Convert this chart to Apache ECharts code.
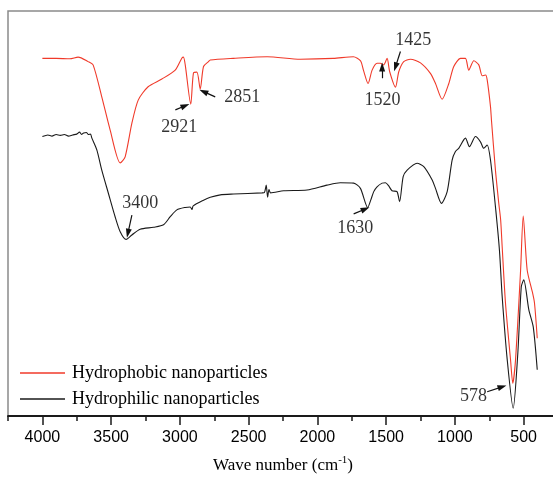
<!DOCTYPE html>
<html>
<head>
<meta charset="utf-8">
<script src="https://cdn.jsdelivr.net/npm/echarts@6/dist/echarts.min.js"></script>
<style>
html,body{margin:0;padding:0;background:#fff;}
#chart{width:553px;height:478px;}
</style>
</head>
<body>
<div id="chart"></div>
<script>
// ---- data (wavenumber cm^-1, transmittance a.u.) ----
const seriesNames = ['Hydrophobic nanoparticles', 'Hydrophilic nanoparticles'];

const redWn = [4000,3900,3800,3740,3667,3631,3568,3507,3434,3398,3349,3303,3231,3131,3034,2985,2974,2961,2921,2901,2876,2852,2828,2792,2779,2612,2366,2124,1884,1738,1686,1665,1631,1602,1566,1542,1518,1493,1474,1432,1408,1372,1323,1250,1178,1141,1093,1044,1008,959,923,899,862,826,801,777,765,741,734,705,681,667,656,632,595,579,559,522,503,474,437,421,401];
const redT = [88.3,88.3,88.2,88.6,87.5,86.7,78.8,70.6,62.5,64.0,72.3,78.0,81.3,83.2,85.4,88.4,88.6,86.7,77.0,84.7,84.9,80.7,86.3,87.5,87.9,88.3,88.7,88.1,88.3,88.7,87.7,85.4,82.1,85.4,87.1,87.1,86.7,88.3,85.0,81.2,85.0,87.5,88.1,87.2,84.6,82.1,78.2,82.1,86.3,88.3,88.3,85.4,87.7,86.7,84.0,84.2,83.0,76.4,73.1,60.7,52.6,48.4,41.8,27.9,13.8,8.1,13.8,36.0,49.4,36.0,30.7,27.9,19.2];

const blackWn = [4000,3960,3930,3900,3870,3840,3810,3780,3750,3730,3715,3700,3680,3665,3650,3640,3604,3568,3520,3471,3434,3391,3349,3289,3192,3119,3070,3022,2961,2925,2912,2903,2828,2779,2706,2609,2403,2385,2372,2362,2352,2340,2245,2075,1930,1833,1736,1687,1634,1612,1590,1566,1529,1505,1481,1457,1421,1402,1376,1347,1275,1226,1165,1141,1098,1056,1020,996,972,923,894,850,814,790,765,741,705,676,656,619,576,542,517,499,462,430,401];
const blackT = [69.0,69.4,69.1,69.5,69.3,69.5,69.1,69.4,69.6,70.1,69.5,69.9,70.0,69.5,69.6,68.6,65.7,60.7,55.0,49.2,45.5,43.6,44.7,46.1,46.6,47.2,49.2,50.9,51.5,51.6,51.0,51.9,53.3,54.0,54.6,54.8,55.1,55.2,57.0,54.0,55.9,55.1,55.6,55.8,57.0,57.6,57.5,56.2,51.5,53.3,55.4,56.6,57.5,57.6,56.8,55.6,55.4,52.9,59.1,60.7,62.4,61.6,58.3,56.2,52.5,55.4,63.2,65.3,66.1,68.6,66.5,69.0,67.7,66.1,66.9,63.2,51.7,41.0,29.5,13.8,1.9,15.6,31.9,33.6,26.2,22.0,11.4];

// tick labels
const majorTicks = [500,1000,1500,2000,2500,3000,3500,4000];

// annotations: label text and its anchor (wavenumber, transmittance)
const annoText = ['2921','2851','3400','1630','1520','1425','578'];
const annoWn   = [3005, 2546, 3289, 1725, 1527, 1302, 865];
const annoT    = [71.4, 78.8, 52.5, 46.3, 78.0, 92.8, 4.8];
// arrows: from (tail) -> to (head)
const arrowFromWn = [3033, 2743, 3349, 1736, 1529, 1396, 765];
const arrowFromT  = [75.6, 78.8, 49.6, 49.9, 83.4, 90.0, 6.0];
const arrowToWn   = [2961, 2828, 3378, 1651, 1529, 1432, 656];
const arrowToT    = [76.6, 80.1, 45.1, 51.1, 86.2, 86.2, 7.2];

const zip = (a, b) => a.map((v, i) => [v, b[i]]);
const serif = 'Liberation Serif, Times New Roman, serif';
const sans = 'Liberation Sans, Arial, sans-serif';
const lineColors = ['#f03a2a', '#1a1a1a'];

const chart = echarts.init(document.getElementById('chart'), null, {renderer: 'canvas'});
chart.setOption({
  animation: false,
  backgroundColor: '#fff',
  grid: {left: 8, top: 11, right: -5, bottom: 62, containLabel: false, outerBoundsMode: 'none',
         show: true, borderColor: '#8a8a8a', borderWidth: 1.5, backgroundColor: 'transparent'},
  legend: {
    data: seriesNames.map((n, i) => ({name: n, icon: 'rect', itemStyle: {color: lineColors[i]}})),
    orient: 'vertical',
    left: 20, top: 364,
    itemWidth: 45, itemHeight: 1.3, itemGap: 8,
    padding: 0,
    textStyle: {fontFamily: serif, fontSize: 18, color: '#000', lineHeight: 17, padding: [0, 0, 0, 2]}
  },
  xAxis: [{
    type: 'value', inverse: true, min: 250, max: 4250, interval: 250,
    position: 'bottom',
    axisLine: {show: true, lineStyle: {color: '#1a1a1a', width: 1.8}},
    axisTick: {show: true, inside: false, length: 5, lineStyle: {color: '#1a1a1a', width: 1.5}},
    axisLabel: {show: false},
    splitLine: {show: false}
  }, {
    type: 'value', inverse: true, min: 250, max: 4250,
    position: 'bottom',
    axisLine: {show: false},
    axisTick: {show: true, inside: false, length: 9, customValues: majorTicks, lineStyle: {color: '#1a1a1a', width: 1.5}},
    axisLabel: {show: true, customValues: majorTicks, margin: 14, fontFamily: sans, fontSize: 16, color: '#000', formatter: v => String(v)},
    splitLine: {show: false},
    name: '{n|Wave number (cm}{s|-1}{n|)}',
    nameLocation: 'middle', nameGap: 39,
    nameTextStyle: {
      rich: {
        n: {fontFamily: serif, fontSize: 17, color: '#000', verticalAlign: 'bottom'},
        s: {fontFamily: serif, fontSize: 11, color: '#000', verticalAlign: 'top', padding: [0, 0, 8, 0]}
      }
    }
  }],
  yAxis: {
    type: 'value', min: 0, max: 100,
    axisLine: {show: false}, axisTick: {show: false}, axisLabel: {show: false}, splitLine: {show: false}
  },
  series: [{
    name: seriesNames[0], type: 'line', xAxisIndex: 0,
    data: zip(redWn, redT), showSymbol: false, symbol: 'none', smooth: 0.25,
    lineStyle: {color: lineColors[0], width: 1.1}, itemStyle: {color: lineColors[0]}, clip: false
  }, {
    name: seriesNames[1], type: 'line', xAxisIndex: 0,
    data: zip(blackWn, blackT), showSymbol: false, symbol: 'none', smooth: 0.25,
    lineStyle: {color: lineColors[1], width: 1.1}, itemStyle: {color: lineColors[1]}, clip: false
  }, {
    name: 'annotations', type: 'scatter', xAxisIndex: 0,
    data: annoWn.map((w, i) => ({value: [w, annoT[i]], text: annoText[i]})),
    symbolSize: 0, silent: true,
    label: {show: true, position: 'inside', formatter: p => p.data.text, fontFamily: serif, fontSize: 18, color: '#000'},
    markLine: {
      silent: true, animation: false,
      symbol: ['none', 'triangle'], symbolSize: [6, 9],
      label: {show: false},
      lineStyle: {color: '#111', width: 1.2, type: 'solid'},
      data: arrowFromWn.map((w, i) => [{coord: [w, arrowFromT[i]]}, {coord: [arrowToWn[i], arrowToT[i]]}])
    }
  }]
});
</script>
</body>
</html>
